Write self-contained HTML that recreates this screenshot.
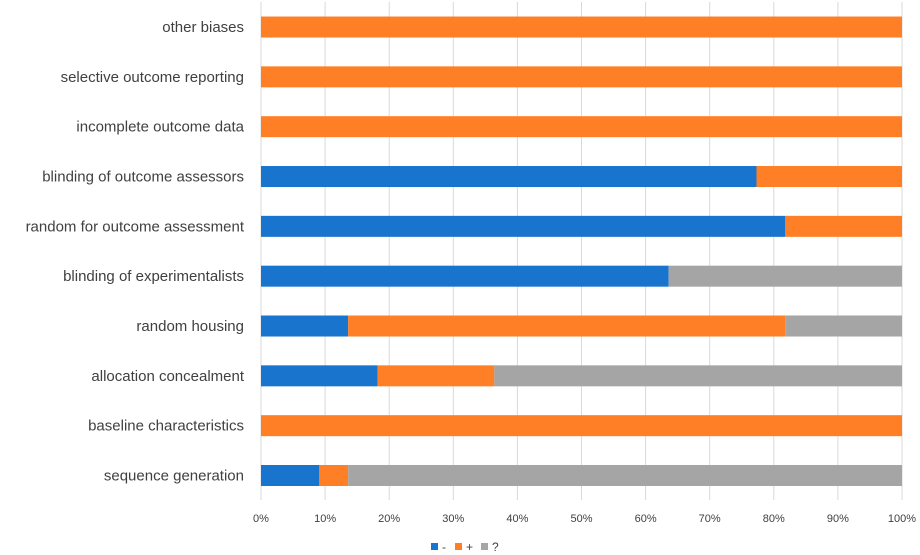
<!DOCTYPE html>
<html><head><meta charset="utf-8"><style>
body{margin:0;background:#fff;}
svg{display:block;font-family:"Liberation Sans",sans-serif;}
</style></head><body>
<svg id="chart" width="920" height="555">
<g id="grid"></g>
<g id="bars"></g>
<g id="ylab"></g>
<g id="xlab"></g>
<g>
<g><rect x="431" y="543" width="7" height="7" fill="#1874cd"/><text x="442" y="551" font-size="12" fill="#404040">-</text></g>
<g><rect x="455" y="543" width="7" height="7" fill="#ff7f27"/><text x="466" y="551" font-size="12" fill="#404040">+</text></g>
<g><rect x="481" y="543" width="7" height="7" fill="#a5a5a5"/><text x="492" y="551" font-size="12" fill="#404040">?</text></g>
</g>
</svg>
<script>
const categories=["sequence generation","baseline characteristics","allocation concealment","random housing","blinding of experimentalists","random for outcome assessment","blinding of outcome assessors","incomplete outcome data","selective outcome reporting","other biases"];
const minusVals=[9.1,0,18.2,13.6,63.6,81.8,77.3,0,0,0];
const plusVals=[4.5,100,18.2,68.2,0,18.2,22.7,100,100,100];
const unknownVals=[86.4,0,63.6,18.2,36.4,0,0,0,0,0];
const ticks=[0,10,20,30,40,50,60,70,80,90,100];
const NS="http://www.w3.org/2000/svg";
const x=v=>261+v*6.41;
const yc=i=>475.5-i*49.83;
function mk(tag,attrs,parent){const e=document.createElementNS(NS,tag);for(const k in attrs)e.setAttribute(k,attrs[k]);parent.appendChild(e);return e;}
const grid=document.getElementById('grid'),bars=document.getElementById('bars'),ylab=document.getElementById('ylab'),xlab=document.getElementById('xlab');
ticks.forEach(t=>{
 const l=mk('line',{x1:x(t),x2:x(t),y1:2,y2:500,stroke:'#d9d9d9','stroke-width':1},grid);
 
 
 const tx=mk('text',{x:x(t),y:522,'text-anchor':'middle','font-size':11,fill:'#404040'},xlab);
 tx.textContent=t+'%';
 
 
});
const series=[[minusVals,'#1874cd','minus'],[plusVals,'#ff7f27','plus'],[unknownVals,'#a5a5a5','unknown']];
categories.forEach((c,i)=>{
 let acc=0;
 series.forEach(([vals,col,nm])=>{
  const v=vals[i];
  if(v>0){
   const r=mk('rect',{x:x(acc),y:yc(i)-10.5,width:x(acc+v)-x(acc),height:21,fill:col},bars);
   
   
  }
  acc+=v;
 });
 const t=mk('text',{x:244,y:yc(i)+5,'text-anchor':'end','font-size':15,fill:'#404040'},ylab);
 t.textContent=c;
 
 
});
</script>
</body></html>
